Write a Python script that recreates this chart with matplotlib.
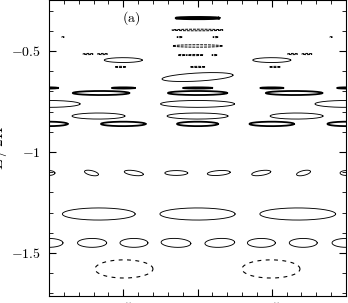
import numpy as np
import matplotlib
matplotlib.use('Agg')
import matplotlib.pyplot as plt

plt.rcParams['mathtext.fontset'] = 'cm'
plt.rcParams['font.family'] = ['DejaVu Serif']

# contour islands, each one: centre x, centre y, half width, half height, tilt (dy/dx)
# thin solid outlines
thin_cx = [1.0, 1.0, 0.0, 2.0, 0.5, 1.5, 0.333, 1.667, 1.0,
           0.0, 0.286, 0.571, 0.857, 1.143, 1.429, 1.714, 2.0,
           0.335, 1.0, 1.675,
           0.0, 0.29, 0.572, 0.855, 1.15, 1.43, 1.712, 2.0]
thin_cy = [-0.629, -0.762, -0.762, -0.762, -0.545, -0.545, -0.822, -0.822, -0.822,
           -1.104, -1.104, -1.104, -1.104, -1.104, -1.104, -1.104, -1.104,
           -1.307, -1.307, -1.307,
           -1.45, -1.45, -1.45, -1.45, -1.45, -1.45, -1.45, -1.45]
thin_hw = [0.239, 0.249, 0.209, 0.209, 0.128, 0.128, 0.178, 0.178, 0.205,
           0.04, 0.047, 0.064, 0.077, 0.077, 0.064, 0.047, 0.04,
           0.245, 0.253, 0.255,
           0.094, 0.098, 0.094, 0.1, 0.1, 0.094, 0.094, 0.094]
thin_hh = [0.02, 0.017, 0.017, 0.017, 0.012, 0.012, 0.015, 0.015, 0.015,
           0.012, 0.012, 0.012, 0.012, 0.012, 0.012, 0.012, 0.012,
           0.03, 0.03, 0.03,
           0.022, 0.022, 0.022, 0.022, 0.022, 0.022, 0.022, 0.022]
thin_tilt = [0.04, 0.0, 0.0, 0.0, 0.0, 0.0, 0.0, 0.0, 0.0,
             0.0, -0.15, -0.1, 0.0, 0.05, 0.1, 0.15, 0.0,
             0.0, 0.0, 0.0,
             0.0, 0.0, 0.0, -0.03, 0.03, 0.0, 0.0, 0.0]

# dense / thick islands
thick_cx = [1.0, 0.5, 1.5, 0.0, 2.0, 1.0, 0.35, 1.65, 1.0, 0.5, 1.5, 0.0, 2.0]
thick_cy = [-0.683, -0.683, -0.683, -0.683, -0.683, -0.708, -0.708, -0.708,
            -0.861, -0.861, -0.861, -0.861, -0.861]
thick_hw = [0.098, 0.077, 0.077, 0.06, 0.06, 0.199, 0.19, 0.19,
            0.138, 0.15, 0.15, 0.125, 0.125]
thick_hh = [0.003, 0.003, 0.003, 0.003, 0.003, 0.01, 0.01, 0.01,
            0.011, 0.011, 0.011, 0.011, 0.011]

# top bar (darkest island)
bar_cx = [1.0]
bar_cy = [-0.337]
bar_hw = [0.145]
bar_hh = [0.004]

# broken thin lines and small specks
dot_cx = [1.0, 1.0, 0.879, 1.121, 0.892, 0.98, 1.114, 0.263, 0.36, 1.737, 1.64,
          1.0, 0.48, 1.52, 0.094, 1.9]
dot_cy = [-0.396, -0.475, -0.431, -0.431, -0.52, -0.52, -0.52, -0.515, -0.515, -0.515, -0.515,
          -0.579, -0.579, -0.579, -0.431, -0.431]
dot_hw = [0.172, 0.168, 0.017, 0.017, 0.024, 0.057, 0.017, 0.034, 0.034, 0.034, 0.034,
          0.05, 0.037, 0.037, 0.008, 0.008]
dot_hh = [0.004, 0.006, 0.003, 0.003, 0.003, 0.003, 0.003, 0.003, 0.003, 0.003, 0.003,
          0.003, 0.003, 0.003, 0.002, 0.002]

# dashed islands
dash_cx = [0.505, 1.495]
dash_cy = [-1.579, -1.579]
dash_hw = [0.195, 0.195]
dash_hh = [0.045, 0.045]

xticks = [0.5, 1.0, 1.5]
xtick_labels = ['$0.5$', '$1$', '$1.5$']
yticks = [-1.5, -1.0, -0.5]
ytick_labels = ['$-1.5$', '$-1$', '$-0.5$']


def draw_islands(ax, cx, cy, hw, hh, tilt=None, **kw):
    t = np.linspace(0, 2 * np.pi, 200)
    for i in range(len(cx)):
        s = 0.0 if tilt is None else tilt[i]
        dx = hw[i] * np.cos(t)
        ax.plot(cx[i] + dx, cy[i] + hh[i] * np.sin(t) + s * dx, color='k', **kw)


fig = plt.figure(figsize=(3.48, 3.03), dpi=100)
ax = fig.add_axes([49 / 348, 1 - 296 / 303, 297 / 348, 296 / 303])

draw_islands(ax, thin_cx, thin_cy, thin_hw, thin_hh, thin_tilt, lw=0.65)
draw_islands(ax, thick_cx, thick_cy, thick_hw, thick_hh, lw=1.3)
draw_islands(ax, bar_cx, bar_cy, bar_hw, bar_hh, lw=1.8)
draw_islands(ax, dot_cx, dot_cy, dot_hw, dot_hh, lw=0.7, linestyle=(0, (3, 1)))
draw_islands(ax, dash_cx, dash_cy, dash_hw, dash_hh, lw=0.8, linestyle=(0, (3.5, 4)))

ax.set_xlim(0, 2)
ax.set_ylim(-1.713, -0.2475)
ax.set_xticks(xticks, labels=xtick_labels)
ax.set_yticks(yticks, labels=ytick_labels)
ax.set_xticks(np.arange(0.1, 2.0, 0.1), minor=True)
ax.set_yticks(np.arange(-1.7, -0.25, 0.1), minor=True)
ax.tick_params(which='both', direction='in', top=True, right=True, labelsize=10)
ax.tick_params(which='major', length=5, width=0.8)
ax.tick_params(which='minor', length=3, width=0.6)
ax.tick_params(axis='y', pad=6)
for sp in ax.spines.values():
    sp.set_linewidth(0.8)

ax.set_ylabel('$E\\,/\\,2\\Pi$', fontsize=11)
ax.yaxis.set_label_coords(-0.135, 0.5)
ax.text(0.55, -0.337, '$\\mathrm{(a)}$', fontsize=10, ha='center', va='center')

fig.savefig('out.png', dpi=100)
